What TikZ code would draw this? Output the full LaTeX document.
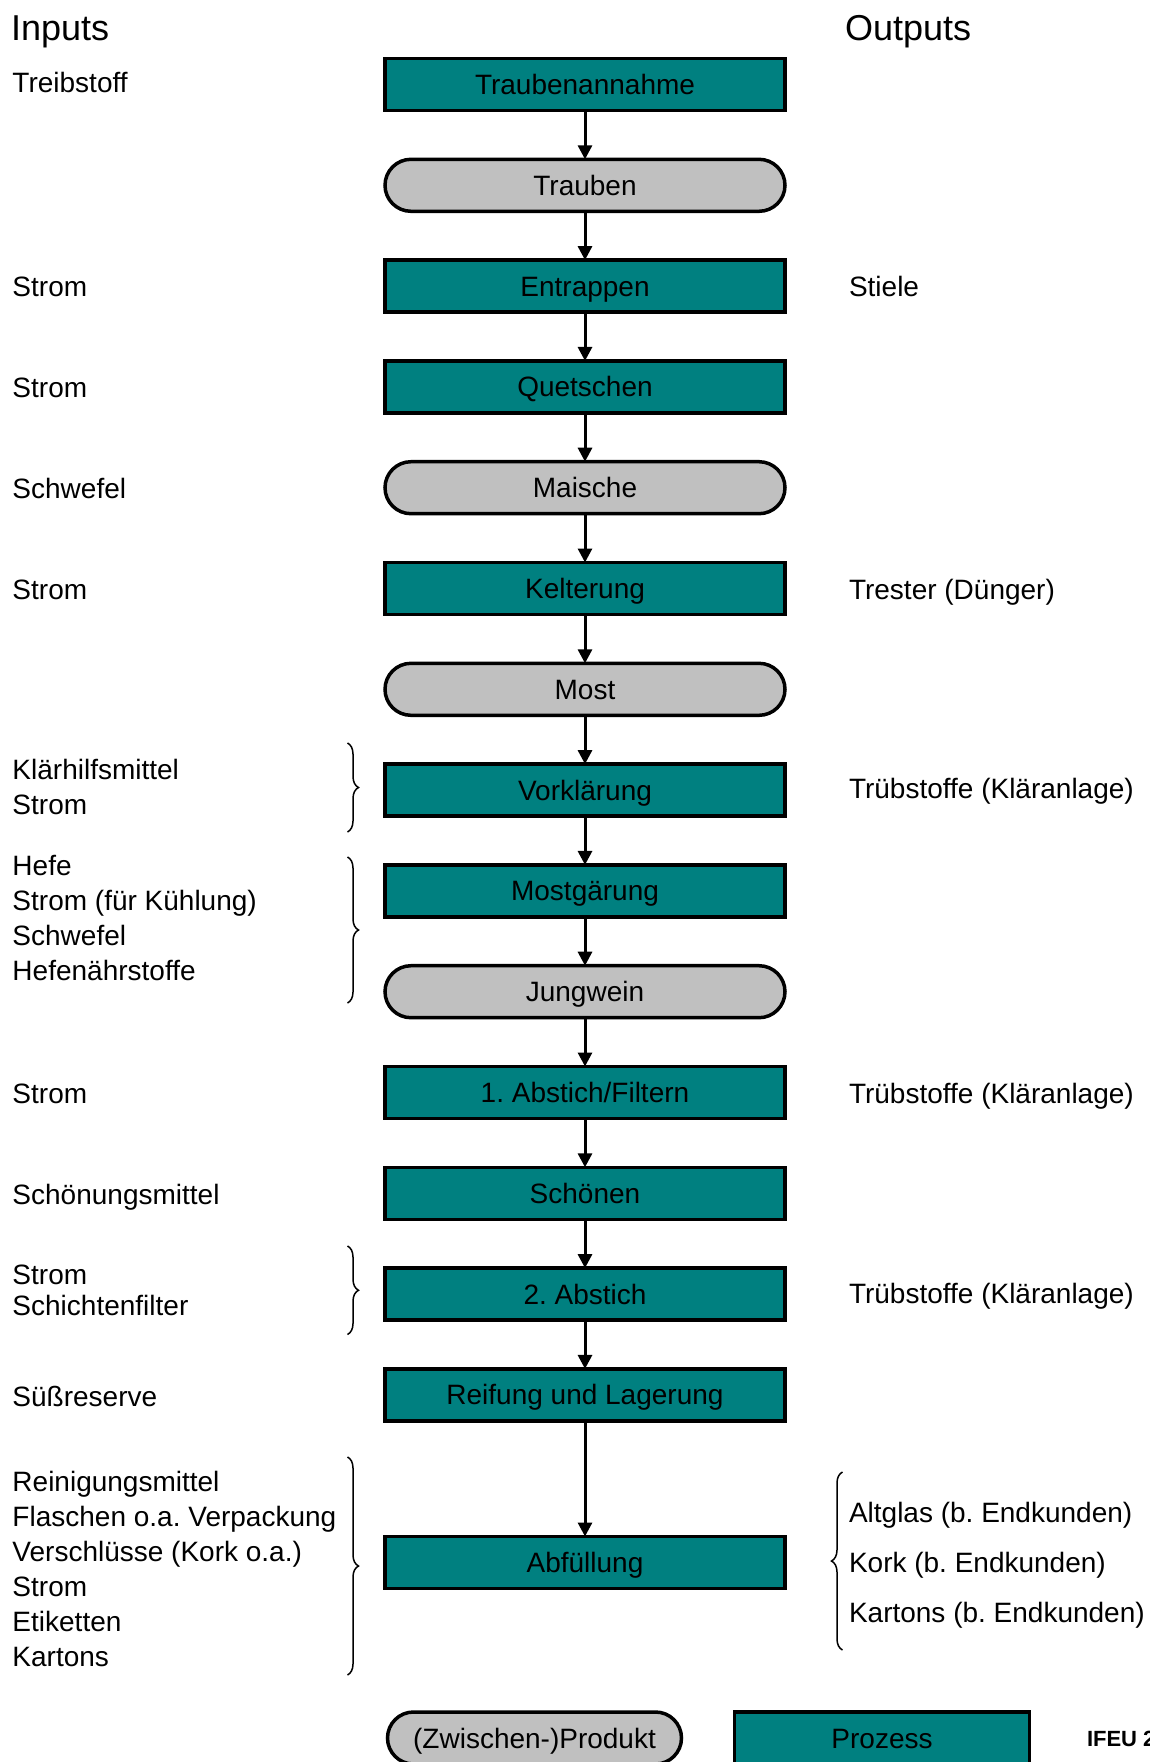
\documentclass[tikz,border=0pt]{standalone}
\usepackage{fontspec}
\setmainfont{Liberation Sans}
\usetikzlibrary{arrows.meta,decorations.pathreplacing}
\definecolor{tealbox}{RGB}{0,128,128}
\definecolor{graybox}{RGB}{192,192,192}
\frenchspacing
\begin{document}
\begin{tikzpicture}[x=1pt,y=-1pt,
  every node/.style={inner sep=0pt, outer sep=0pt},
  proc/.style={draw=black, line width=3.5pt, fill=tealbox, minimum width=400pt, minimum height=52pt, font=\fontsize{28}{34}\selectfont, text height=20pt, text depth=0pt},
  prod/.style={proc, fill=graybox, rounded corners=26pt},
  lbl/.style={anchor=west, font=\fontsize{28}{34}\selectfont, text height=20pt, text depth=0pt},
  hdr/.style={anchor=base west, font=\fontsize{36}{40}\selectfont},
  flow/.style={line width=3pt, -{Triangle[length=14pt,width=14pt]}},
  brc/.style={decorate, decoration={brace, amplitude=11pt}, line width=1.5pt},
  ]
\useasboundingbox (0,0) rectangle (1149,1762);
\fill[white] (0,0) rectangle (1149,1762);

% headers
\node[hdr] (hin) at (11,40) {Inputs};
\node[hdr] (hout) at (845,40) {Outputs};

% flow chain
\node[proc] (n0) at (585,84.5) {Traubenannahme};
\node[prod] (n1) at (585,185.3) {Trauben};
\node[proc] (n2) at (585,286.1) {Entrappen};
\node[proc] (n3) at (585,386.9) {Quetschen};
\node[prod] (n4) at (585,487.7) {Maische};
\node[proc] (n5) at (585,588.5) {Kelterung};
\node[prod] (n6) at (585,689.3) {Most};
\node[proc] (n7) at (585,790.1) {Vorklärung};
\node[proc] (n8) at (585,890.9) {Mostgärung};
\node[prod] (n9) at (585,991.7) {Jungwein};
\node[proc] (n10) at (585,1092.5) {1. Abstich/Filtern};
\node[proc] (n11) at (585,1193.3) {Schönen};
\node[proc] (n12) at (585,1294.1) {2. Abstich};
\node[proc] (n13) at (585,1394.9) {Reifung und Lagerung};
\node[proc] (n14) at (585,1562.5) {Abfüllung};

\foreach \a/\b in {n0/n1,n1/n2,n2/n3,n3/n4,n4/n5,n5/n6,n6/n7,n7/n8,n8/n9,n9/n10,n10/n11,n11/n12,n12/n13,n13/n14}
  \draw[flow] (\a) -- (\b);

% inputs
\node[lbl] (i0) at (12.5,82) {Treibstoff};
\node[lbl] (i2) at (12.5,286) {Strom};
\node[lbl] (i3) at (12.5,387) {Strom};
\node[lbl] (i4) at (12.5,488) {Schwefel};
\node[lbl] (i5) at (12.5,589) {Strom};
\node[lbl] (i7a) at (12.5,769) {Klärhilfsmittel};
\node[lbl] (i7b) at (12.5,804) {Strom};
\node[lbl] (i8a) at (12.5,865.5) {Hefe};
\node[lbl] (i8b) at (12.5,900.5) {Strom (für Kühlung)};
\node[lbl] (i8c) at (12.5,935.5) {Schwefel};
\node[lbl] (i8d) at (12.5,970.5) {Hefenährstoffe};
\node[lbl] (i10) at (12.5,1093) {Strom};
\node[lbl] (i11) at (12.5,1194) {Schönungsmittel};
\node[lbl] (i12a) at (12.5,1274) {Strom};
\node[lbl] (i12b) at (12.5,1305) {Schichtenfilter};
\node[lbl] (i13) at (12.5,1396) {Süßreserve};
\node[lbl] (i14a) at (12.5,1481) {Reinigungsmittel};
\node[lbl] (i14b) at (12.5,1516) {Flaschen o.a. Verpackung};
\node[lbl] (i14c) at (12.5,1551) {Verschlüsse (Kork o.a.)};
\node[lbl] (i14d) at (12.5,1586) {Strom};
\node[lbl] (i14e) at (12.5,1621) {Etiketten};
\node[lbl] (i14f) at (12.5,1656) {Kartons};

% outputs
\node[lbl] (o2) at (849,286) {Stiele};
\node[lbl] (o5) at (849,589) {Trester (Dünger)};
\node[lbl] (o7) at (849,788) {Trübstoffe (Kläranlage)};
\node[lbl] (o10) at (849,1093) {Trübstoffe (Kläranlage)};
\node[lbl] (o12) at (849,1293) {Trübstoffe (Kläranlage)};
\node[lbl] (o14a) at (849,1512) {Altglas (b. Endkunden)};
\node[lbl] (o14b) at (849,1562) {Kork (b. Endkunden)};
\node[lbl] (o14c) at (849,1612) {Kartons (b. Endkunden)};

% braces
\coordinate (b1t) at (347.5,743);  \coordinate (b1b) at (347.5,832);
\coordinate (b2t) at (347.5,857);  \coordinate (b2b) at (347.5,1003);
\coordinate (b3t) at (347.5,1246); \coordinate (b3b) at (347.5,1334.5);
\coordinate (b4t) at (347.5,1457); \coordinate (b4b) at (347.5,1675);
\coordinate (b5t) at (842.5,1472); \coordinate (b5b) at (842.5,1650);
\draw[brc] (b1t) -- (b1b);
\draw[brc] (b2t) -- (b2b);
\draw[brc] (b3t) -- (b3b);
\draw[brc] (b4t) -- (b4b);
\draw[brc] (b5b) -- (b5t);

% legend
\node[prod, minimum width=294pt] (lprod) at (534.5,1738) {(Zwischen-)Produkt};
\node[proc, minimum width=295pt] (lproc) at (882,1738) {Prozess};
\node[anchor=base west, font=\fontsize{22}{26}\selectfont\bfseries] (ifeu) at (1087,1746) {IFEU 2};
\end{tikzpicture}
\end{document}
